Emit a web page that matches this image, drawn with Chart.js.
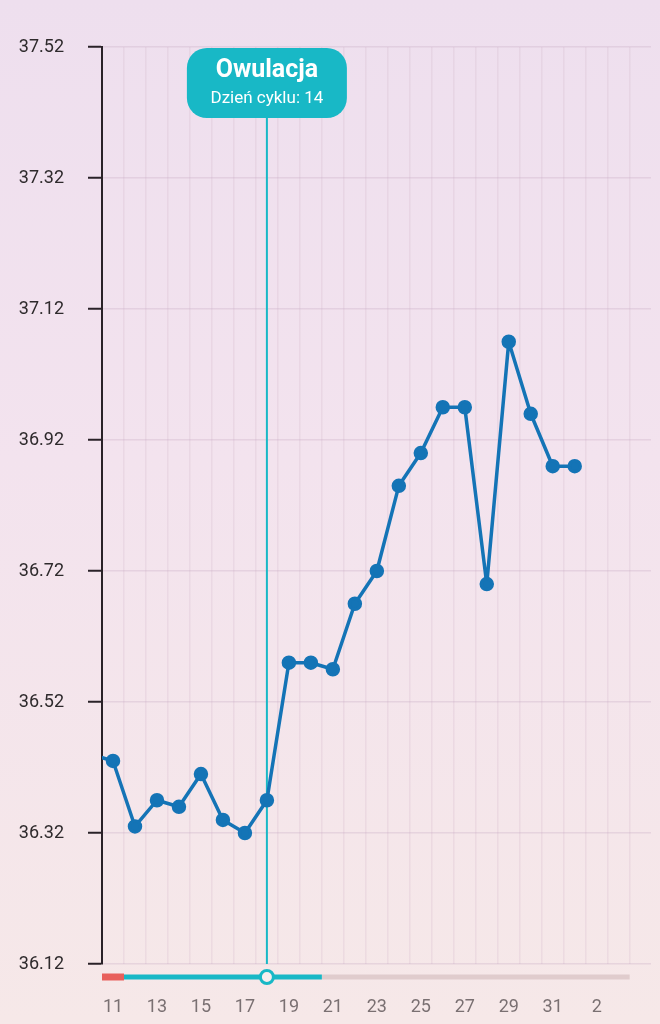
<!DOCTYPE html>
<html>
<head>
<meta charset="utf-8">
<script src="https://cdn.jsdelivr.net/npm/chart.js@4"></script>
<style>
  html, body { margin: 0; padding: 0; overflow: hidden; }
  body { background: linear-gradient(#eedfee, #f3e3ee 45%, #f6e8e8); width: 660px; height: 1024px; }
  #wrap { position: relative; width: 660px; height: 1024px; }
  canvas { display: block; }
</style>
</head>
<body>
<div id="wrap"><canvas id="myChart"></canvas></div>
<script>
const ctx = document.getElementById('myChart');

// cycle days (32 = 1st, 33 = 2nd of next month)
const days = [10, 11, 12, 13, 14, 15, 16, 17, 18, 19, 20, 21, 22, 23, 24, 25, 26, 27, 28, 29, 30, 31, 32];
const temps = [36.44, 36.43, 36.33, 36.37, 36.36, 36.41, 36.34, 36.32, 36.37, 36.58, 36.58, 36.57, 36.67, 36.72,
    36.85, 36.90, 36.97, 36.97, 36.70, 37.07, 36.96, 36.88, 36.88];
const yTicks = [36.12, 36.32, 36.52, 36.72, 36.92, 37.12, 37.32, 37.52];
const xTicks = [11, 13, 15, 17, 19, 21, 23, 25, 27, 29, 31, 33];
const gridDays = [11.5, 12.5, 13.5, 14.5, 15.5, 16.5, 17.5, 18.5, 19.5, 20.5, 21.5, 22.5, 23.5, 24.5,
    25.5, 26.5, 27.5, 28.5, 29.5, 30.5, 31.5, 32.5, 33.5, 34.5];
const ovulationDay = 18;
const ovulationTitle = 'Owulacja';
const ovulationText = 'Dzień cyklu: 14';

const X_MIN = 10.5;
const X_MAX = 35.47;
const TEAL = '#18b8c6';
const FONT = 'Roboto';

const ovulation = {
    id: 'ovulation',
    beforeDatasetsDraw(chart) {
        const c = chart.ctx;
        const x = chart.scales.x.getPixelForValue(ovulationDay);
        c.save();
        c.strokeStyle = TEAL;
        c.lineWidth = 2;
        c.beginPath();
        c.moveTo(x, 110);
        c.lineTo(x, chart.chartArea.bottom);
        c.stroke();
        c.restore();
    },
    afterDraw(chart) {
        const c = chart.ctx;
        const xs = chart.scales.x;
        const x = xs.getPixelForValue(ovulationDay);
        c.save();
        // label box
        c.fillStyle = TEAL;
        c.beginPath();
        c.roundRect(x - 80, 48, 160, 70, 20);
        c.fill();
        c.fillStyle = '#ffffff';
        c.textAlign = 'center';
        c.textBaseline = 'middle';
        c.font = 'bold 25px ' + FONT;
        c.fillText(ovulationTitle, x, 71);
        c.font = '17px ' + FONT;
        c.fillText(ovulationText, x, 99);

        // slider under the axis
        const y = 977;
        c.lineWidth = 5;
        c.strokeStyle = '#e0cccd';
        c.beginPath();
        c.moveTo(xs.getPixelForValue(20.5), y);
        c.lineTo(xs.getPixelForValue(34.5), y);
        c.stroke();
        c.strokeStyle = TEAL;
        c.beginPath();
        c.moveTo(xs.getPixelForValue(11.5), y);
        c.lineTo(xs.getPixelForValue(20.5), y);
        c.stroke();
        c.strokeStyle = '#e8605c';
        c.lineWidth = 7;
        c.beginPath();
        c.moveTo(xs.getPixelForValue(10.5), y);
        c.lineTo(xs.getPixelForValue(11.5), y);
        c.stroke();
        c.fillStyle = '#f8eeee';
        c.strokeStyle = TEAL;
        c.lineWidth = 3;
        c.beginPath();
        c.arc(x, y, 6.5, 0, Math.PI * 2);
        c.fill();
        c.stroke();
        c.restore();
    }
};

new Chart(ctx, {
    type: 'line',
    data: {
        datasets: [{
            data: days.map((d, i) => ({ x: d, y: temps[i] })),
            borderColor: '#1474b6',
            backgroundColor: '#1474b6',
            borderWidth: 3.5,
            borderJoinStyle: 'round',
            pointRadius: 5.5,
            pointHoverRadius: 5.5,
            tension: 0
        }]
    },
    options: {
        responsive: true,
        maintainAspectRatio: false,
        animation: false,
        layout: { padding: { top: 47, left: 0, right: 0, bottom: 0 } },
        plugins: { legend: { display: false }, tooltip: { enabled: false } },
        scales: {
            x: {
                type: 'linear',
                min: X_MIN,
                max: X_MAX,
                afterBuildTicks: (s) => { s.ticks = xTicks.map(v => ({ value: v })); },
                afterFit: (s) => { s.height = 60; },
                grid: { display: false, drawTicks: false },
                border: { display: false },
                ticks: {
                    autoSkip: false,
                    maxRotation: 0,
                    padding: 33,
                    color: '#7a7072',
                    font: { family: FONT, size: 18 },
                    callback: (v) => (v > 31 ? v - 31 : v)
                }
            },
            xg: {
                type: 'linear',
                position: 'top',
                min: X_MIN,
                max: X_MAX,
                afterBuildTicks: (s) => { s.ticks = gridDays.map(v => ({ value: v })); },
                afterFit: (s) => { s.height = 0; },
                grid: { color: 'rgba(205,175,195,0.22)', lineWidth: 1.5, drawTicks: false },
                border: { display: false },
                ticks: { display: false }
            },
            y: {
                min: 36.12,
                max: 37.52,
                afterBuildTicks: (s) => { s.ticks = yTicks.map(v => ({ value: v })); },
                afterFit: (s) => { s.width = 102; },
                grid: {
                    color: 'rgba(200,170,195,0.32)',
                    lineWidth: 1.5,
                    tickColor: '#2a2228',
                    tickWidth: 2,
                    tickLength: 14
                },
                border: { color: '#2a2228', width: 2 },
                ticks: {
                    padding: 24,
                    color: '#2e2a2c',
                    font: { family: FONT, size: 18 },
                    callback: (v) => v.toFixed(2)
                }
            }
        }
    },
    plugins: [ovulation]
});
</script>
</body>
</html>
